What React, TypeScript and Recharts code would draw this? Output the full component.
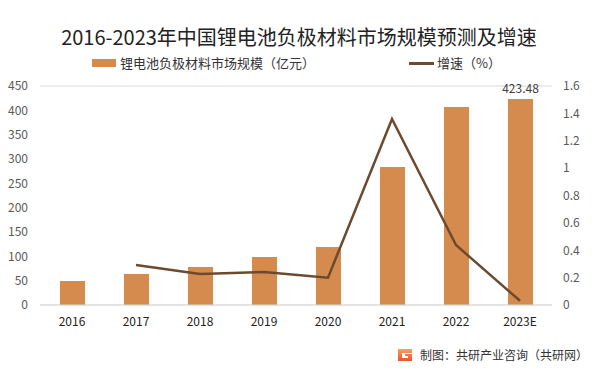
import { ComposedChart, Bar, Line, XAxis, YAxis, CartesianGrid, LabelList } from 'recharts'

const years = ['2016', '2017', '2018', '2019', '2020', '2021', '2022', '2023E']
const marketSize = [49.3, 63.8, 78, 98.6, 119, 283.5, 406.8, 423.48]
const growthRate = [null, 0.292, 0.226, 0.241, 0.2, 1.359, 0.438, 0.031]
const barLabels = ['', '', '', '', '', '', '', '423.48']
const leftTicks = [0, 50, 100, 150, 200, 250, 300, 350, 400, 450]
const rightTicks = [0, 0.2, 0.4, 0.6, 0.8, 1, 1.2, 1.4, 1.6]

const BAR = '#D68B4E'
const LINE = '#6B4A30'
const TICK = '#595959'
const FONT = '"Noto Sans CJK SC", "Noto Sans", sans-serif'

const data = years.map((y, i) => ({
  year: y,
  size: marketSize[i],
  rate: growthRate[i],
  label: barLabels[i],
}))

export default function App() {
  const tick = { fontSize: 12, fill: TICK, fontFamily: FONT }
  return (
    <div style={{ position: 'relative', width: 598, height: 371, background: '#fff', fontFamily: FONT, overflow: 'hidden' }}>
      <style>{'body{margin:0}'}</style>
      <div
        style={{
          position: 'absolute',
          top: 24,
          left: 0,
          width: 598,
          textAlign: 'center',
          fontSize: 20,
          color: '#222',
          lineHeight: '26px',
        }}
      >
        2016-2023年中国锂电池负极材料市场规模预测及增速
      </div>

      {/* legend */}
      <div style={{ position: 'absolute', top: 54, left: 92, display: 'flex', alignItems: 'center', fontSize: 13, color: '#333', lineHeight: '18px', whiteSpace: 'nowrap' }}>
        <span style={{ display: 'inline-block', width: 24, height: 8, background: BAR, marginRight: 4 }} />
        <span>锂电池负极材料市场规模（亿元）</span>
      </div>
      <div style={{ position: 'absolute', top: 54, left: 409, display: 'flex', alignItems: 'center', fontSize: 13, color: '#333', lineHeight: '18px', whiteSpace: 'nowrap' }}>
        <span style={{ display: 'inline-block', width: 25, height: 3, background: LINE, marginRight: 3 }} />
        <span>增速（%）</span>
      </div>

      <div style={{ position: 'absolute', top: 0, left: 0 }}>
        <ComposedChart width={598} height={371} data={data} margin={{ top: 86, right: 0, bottom: 36, left: 0 }}>
          <CartesianGrid vertical={false} stroke="#D9D9D9" />
          <XAxis
            dataKey="year"
            height={30}
            axisLine={{ stroke: '#D9D9D9' }}
            tickLine={false}
            tickSize={0}
            tickMargin={12}
            tick={{ ...tick, fill: '#222' }}
            interval={0}
          />
          <YAxis
            yAxisId="left"
            width={40}
            domain={[0, 450]}
            ticks={leftTicks}
            axisLine={false}
            tickLine={false}
            tickSize={0}
            tickMargin={12}
            tick={tick}
            interval={0}
          />
          <YAxis
            yAxisId="right"
            orientation="right"
            width={46}
            domain={[0, 1.6]}
            ticks={rightTicks}
            axisLine={false}
            tickLine={false}
            tickSize={0}
            tickMargin={11}
            tick={{ ...tick, textAnchor: 'start' }}
            interval={0}
          />
          <Bar yAxisId="left" dataKey="size" fill={BAR} barSize={25} isAnimationActive={false}>
            <LabelList dataKey="label" position="top" offset={6} style={{ fontSize: 12, fill: '#404040', fontFamily: FONT }} />
          </Bar>
          <Line
            yAxisId="right"
            dataKey="rate"
            stroke={LINE}
            strokeWidth={2.5}
            dot={false}
            activeDot={false}
            type="linear"
            connectNulls={false}
            isAnimationActive={false}
          />
        </ComposedChart>
      </div>

      {/* footer */}
      <div style={{ position: 'absolute', top: 346, left: 397, display: 'flex', alignItems: 'center', fontSize: 12, color: '#333', lineHeight: '18px', whiteSpace: 'nowrap' }}>
        <svg width={16} height={14} style={{ marginRight: 7 }}>
          <defs>
            <linearGradient id="logoG" x1="0" y1="0" x2="0" y2="1">
              <stop offset="0%" stopColor="#F7A35C" />
              <stop offset="100%" stopColor="#E8552B" />
            </linearGradient>
          </defs>
          <path d="M1 1 H15 V5 H5 V10 H11 V8 H8 V6 H15 V13 H1 Z" fill="url(#logoG)" />
        </svg>
        <span>制图：共研产业咨询（共研网）</span>
      </div>
    </div>
  )
}
